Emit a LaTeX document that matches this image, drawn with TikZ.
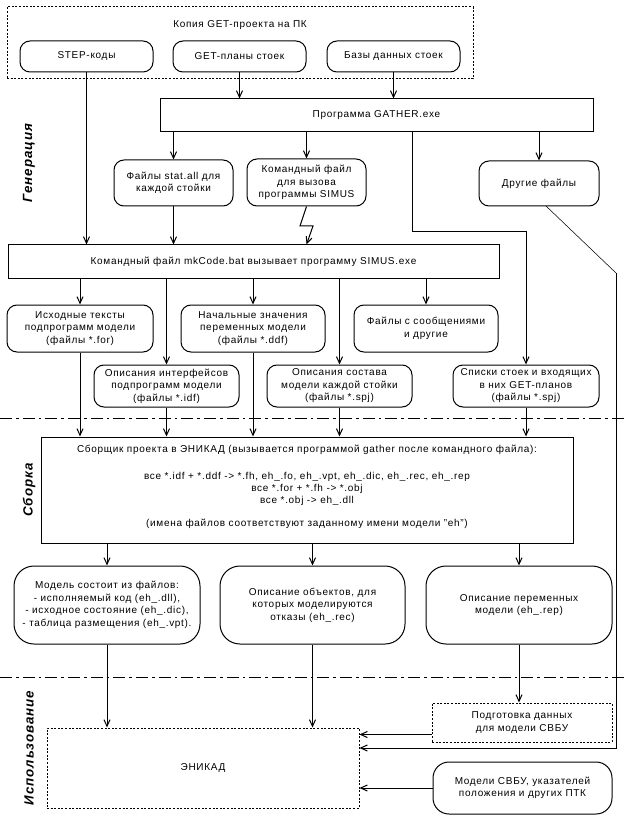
\documentclass[tikz,border=0pt]{standalone}
\usepackage{fontspec}
\setmainfont{Liberation Sans}[LetterSpace=7]
\usetikzlibrary{arrows.meta}
\tikzset{
  wh/.style 2 args={minimum width=#1*0.75pt, minimum height=#2*0.75pt},
  base/.style={draw=black, line width=0.75pt, align=center, inner sep=1pt, font=\fontsize{7.5pt}{9.4pt}\selectfont},
  rbox/.style={base, rounded corners=7.5pt},
  bigr/.style={base, rounded corners=15pt},
  sbox/.style={base},
  dbox/.style={base, dash pattern=on 1.5pt off 1.2pt},
  arr/.style={line width=0.75pt, -{Straight Barb[length=5pt,width=4.5pt]}},
  ln/.style={line width=0.75pt},
  thinln/.style={line width=0.4pt},
  sep/.style={line width=0.75pt, dash pattern=on 9pt off 3pt on 2pt off 3pt},
  phase/.style={font=\fontsize{10pt}{12pt}\selectfont\bfseries\itshape, rotate=90},
  txt/.style={font=\fontsize{7.5pt}{9.4pt}\selectfont, align=center}
}
\begin{document}
\begin{tikzpicture}[x=0.75pt, y=-0.75pt]
\useasboundingbox (0,0) rectangle (624,823);
\fill[white] (0,0) rectangle (624,823);

% phase labels
\node[phase] (lgen) at (29,163) {Генерация};
\node[phase] (lsbor) at (29,490) {Сборка};
\node[phase] (luse) at (29,748) {Использование};

% separators
\draw[sep] (0,418) -- (624,418);
\draw[sep] (0,677) -- (624,677);

% top group
\node[dbox, wh={466}{72}] (top) at (240,43) {};
\node[txt] (toptitle) at (240,25) {Копия GET-проекта на ПК};
\node[rbox, wh={133}{31}] (step) at (86.5,56.5) {STEP-коды};
\node[rbox, wh={133}{31}] (getp) at (239.5,56.5) {GET-планы стоек};
\node[rbox, wh={133}{31}] (bazy) at (393.5,56.5) {Базы данных стоек};

\node[sbox, wh={433}{33}] (gather) at (376.5,115.5) {Программа GATHER.exe};

\node[rbox, wh={119}{46}] (statall) at (173.5,183) {Файлы stat.all для\\каждой стойки};
\node[rbox, wh={119}{47}] (komfile) at (306.5,182.5) {Командный файл\\для вызова\\программы SIMUS};
\node[rbox, wh={120}{45}] (drugie) at (539,183.5) {Другие файлы};

\node[sbox, wh={491}{33}] (mkcode) at (253.5,261.5) {Командный файл mkCode.bat вызывает программу SIMUS.exe};

\node[rbox, wh={146}{47}] (ishod) at (80,328.5) {Исходные тексты\\подпрограмм модели\\(файлы *.for)};
\node[rbox, wh={144}{47}] (nachal) at (253,328.5) {Начальные значения\\переменных модели\\(файлы *.ddf)};
\node[rbox, wh={144}{47}] (soobsh) at (426,328.5) {Файлы с сообщениями\\и другие};
\node[rbox, wh={145}{42}] (interf) at (166.5,386) {Описания интерфейсов\\подпрограмм модели\\(файлы *.idf)};
\node[rbox, wh={145}{42}] (sostav) at (339.5,386) {Описания состава\\модели каждой стойки\\(файлы *.spj)};
\node[rbox, wh={146}{42}] (spiski) at (526,386) {Списки стоек и входящих\\в них GET-планов\\(файлы *.spj)};

\node[sbox, wh={532}{106}] (sbor) at (307,490) {};
\node[txt] (sbt1) at (307,450) {Сборщик проекта в ЭНИКАД (вызывается программой gather после командного файла):};
\node[txt] (sbt2) at (307,477) {все *.idf + *.ddf -> *.fh, eh\_.fo, eh\_.vpt, eh\_.dic, eh\_.rec, eh\_.rep};
\node[txt] (sbt3) at (307,489) {все *.for + *.fh -> *.obj};
\node[txt] (sbt4) at (307,501) {все *.obj -> eh\_.dll};
\node[txt] (sbt5) at (307,524) {(имена файлов соответствуют заданному имени модели "eh")};

\node[bigr, wh={186}{78}] (model) at (107,605) {Модель состоит из файлов:\\- исполняемый код (eh\_.dll),\\- исходное состояние (eh\_.dic),\\- таблица размещения (eh\_.vpt).};
\node[bigr, wh={185}{78}] (objekt) at (312.5,605) {Описание объектов, для\\которых моделируются\\отказы (eh\_.rec)};
\node[bigr, wh={186}{78}] (perem) at (519,605) {Описание переменных\\модели (eh\_.rep)};

\node[dbox, wh={312}{80}] (enikad) at (203,768) {ЭНИКАД};
\node[dbox, wh={180}{39}] (podgot) at (522,722.5) {Подготовка данных\\для модели СВБУ};
\node[rbox, rounded corners=12pt, wh={179}{52}] (modsvbu) at (522.5,788) {Модели СВБУ, указателей\\положения и других ПТК};

\coordinate (c1) at (412,232);
\coordinate (c2) at (526,232);
\coordinate (d1) at (546,206);
\coordinate (d2) at (616,273);
\coordinate (d3) at (616,748);
\coordinate (z1) at (300,226);
\coordinate (z2) at (313,226);

% connectors
\draw[arr] (step.south) -- (step.south |- mkcode.north);
\draw[arr] (getp.south) -- (getp.south |- gather.north);
\draw[arr] (bazy.south) -- (bazy.south |- gather.north);
\draw[arr] (statall.north |- gather.south) -- (statall.north);
\draw[arr] (komfile.north |- gather.south) -- (komfile.north);
\draw[arr] (drugie.north |- gather.south) -- (drugie.north);
\draw[arr] (c1 |- gather.south) -- (c1) -- (c2) -- (spiski.north);
\draw[thinln] (d1) -- (d2);
\draw[arr] (d2) -- (d3) -- (d3 -| enikad.east);
\draw[arr] (statall.south) -- (statall.south |- mkcode.north);
\draw[arr] (komfile.south) -- (z1) -- (z2) -- (komfile.south |- mkcode.north);

\draw[arr] (ishod.north |- mkcode.south) -- (ishod.north);
\draw[arr] (interf.north |- mkcode.south) -- (interf.north);
\draw[arr] (nachal.north |- mkcode.south) -- (nachal.north);
\draw[arr] (sostav.north |- mkcode.south) -- (sostav.north);
\draw[arr] (soobsh.north |- mkcode.south) -- (soobsh.north);

\draw[arr] (ishod.south) -- (ishod.south |- sbor.north);
\draw[arr] (interf.south) -- (interf.south |- sbor.north);
\draw[arr] (nachal.south) -- (nachal.south |- sbor.north);
\draw[arr] (sostav.south) -- (sostav.south |- sbor.north);
\draw[arr] (spiski.south) -- (spiski.south |- sbor.north);

\draw[arr] (model.north |- sbor.south) -- (model.north);
\draw[arr] (objekt.north |- sbor.south) -- (objekt.north);
\draw[arr] (perem.north |- sbor.south) -- (perem.north);

\draw[arr] (model.south) -- (model.south |- enikad.north);
\draw[arr] (objekt.south) -- (objekt.south |- enikad.north);
\draw[arr] (perem.south) -- (perem.south |- podgot.north);
\draw[arr] ([yshift=-9pt]podgot.west) -- ([yshift=-9pt]podgot.west -| enikad.east);
\draw[arr] (modsvbu.west) -- (modsvbu.west -| enikad.east);
\end{tikzpicture}
\end{document}
